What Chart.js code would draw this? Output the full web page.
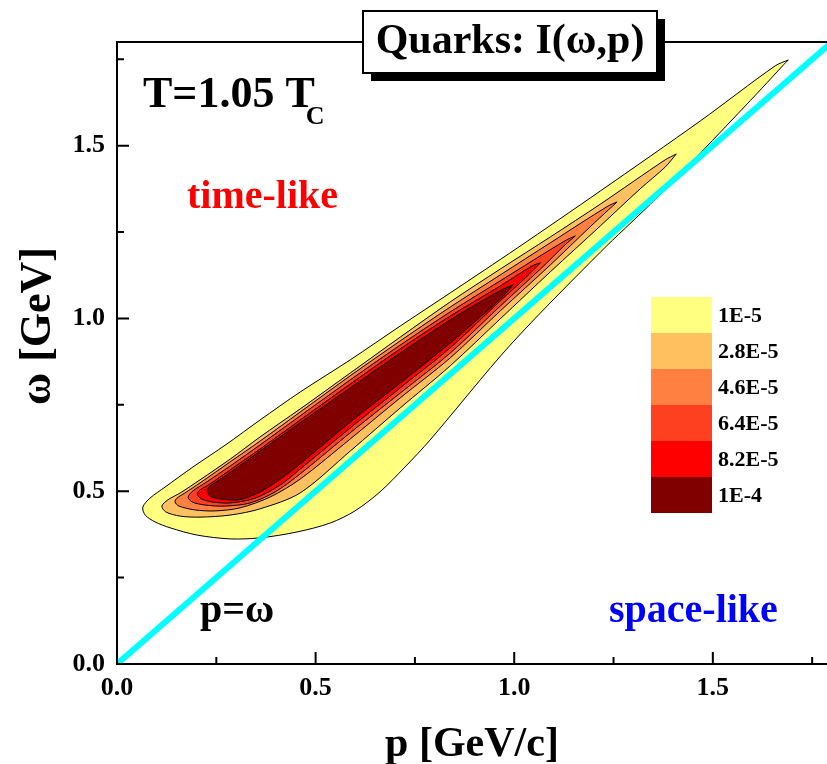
<!DOCTYPE html>
<html>
<head>
<meta charset="utf-8">
<script src="https://cdn.jsdelivr.net/npm/chart.js@4.4.0/dist/chart.umd.min.js"></script>
<style>
  html, body { margin: 0; padding: 0; overflow: hidden; background: #fff; }
  canvas { display: block; }
</style>
</head>
<body>
<canvas id="chart" width="840" height="764"></canvas>
<script>
const SERIF = '"Liberation Serif", "Times New Roman", serif';

const levelLabels = ["1E-5", "2.8E-5", "4.6E-5", "6.4E-5", "8.2E-5", "1E-4"];
const levelColors = ["#ffff80", "#ffc060", "#ff8040", "#ff4020", "#ff0000", "#800000"];

// contour outlines: p [GeV/c] and omega [GeV]
const level1P = [1.690,1.657,1.469,1.217,1.008,0.839,0.713,0.587,0.461,0.360,0.277,0.191,0.121,0.083,0.065,0.071,0.096,0.134,0.202,0.285,0.360,0.453,0.537,0.599,0.662,0.725,0.788,0.990,1.217,1.343,1.469,1.594,1.650,1.678];
const level1W = [1.748,1.731,1.572,1.369,1.204,1.074,0.978,0.880,0.787,0.706,0.637,0.570,0.512,0.480,0.454,0.431,0.411,0.394,0.373,0.362,0.365,0.382,0.408,0.443,0.498,0.570,0.648,0.923,1.192,1.331,1.479,1.630,1.699,1.734];

const level2P = [1.408,1.380,1.217,1.091,0.965,0.839,0.713,0.587,0.461,0.360,0.285,0.209,0.159,0.128,0.113,0.123,0.159,0.209,0.285,0.360,0.461,0.587,0.713,0.839,0.965,1.091,1.217,1.317,1.380];
const level2W = [1.476,1.459,1.331,1.236,1.143,1.048,0.946,0.842,0.738,0.657,0.593,0.533,0.495,0.475,0.457,0.440,0.428,0.425,0.431,0.449,0.495,0.616,0.741,0.863,0.999,1.135,1.268,1.375,1.438];

const level3P = [1.259,1.237,1.091,0.965,0.839,0.713,0.587,0.461,0.360,0.285,0.209,0.171,0.151,0.146,0.156,0.196,0.247,0.310,0.385,0.461,0.587,0.713,0.839,0.965,1.091,1.191,1.237];
const level3W = [1.337,1.326,1.219,1.126,1.033,0.935,0.834,0.729,0.645,0.585,0.524,0.495,0.480,0.469,0.457,0.446,0.443,0.452,0.483,0.535,0.651,0.770,0.886,1.022,1.155,1.265,1.314];

const level4P = [1.154,1.131,0.965,0.839,0.713,0.587,0.461,0.360,0.285,0.222,0.191,0.179,0.189,0.222,0.272,0.335,0.398,0.461,0.587,0.713,0.839,0.965,1.066,1.128];
const level4W = [1.239,1.227,1.109,1.019,0.923,0.822,0.718,0.634,0.573,0.524,0.501,0.483,0.469,0.460,0.457,0.466,0.498,0.550,0.669,0.784,0.900,1.036,1.143,1.213];

const level5P = [1.066,1.045,0.965,0.839,0.713,0.587,0.461,0.360,0.285,0.234,0.209,0.202,0.212,0.239,0.285,0.348,0.411,0.461,0.587,0.713,0.839,0.965,1.028];
const level5W = [1.161,1.152,1.094,1.007,0.912,0.810,0.706,0.622,0.562,0.521,0.504,0.492,0.478,0.469,0.466,0.480,0.518,0.564,0.683,0.799,0.915,1.051,1.117];

const level6P = [0.997,0.977,0.914,0.839,0.713,0.587,0.461,0.360,0.297,0.254,0.234,0.227,0.234,0.259,0.305,0.360,0.411,0.461,0.587,0.713,0.839,0.914,0.965];
const level6W = [1.097,1.088,1.048,0.996,0.900,0.799,0.698,0.616,0.564,0.530,0.515,0.504,0.486,0.478,0.475,0.498,0.535,0.579,0.700,0.813,0.929,1.004,1.056];

// light cone p = omega
const lightConeP = [0, 1.8];
const lightConeW = [0, 1.8];

const majorTicks = [0, 0.5, 1.0, 1.5];
const minorTicks = [0.25, 0.75, 1.25, 1.75];

const contours = [
  [level1P, level1W], [level2P, level2W], [level3P, level3W],
  [level4P, level4W], [level5P, level5W], [level6P, level6W]
];

function closedShape(ps, ws) {
  const pts = ps.map((p, i) => ({ x: p, y: ws[i] }));
  pts.push(pts[0]);
  return pts;
}

const datasets = contours.map(([ps, ws], i) => ({
  label: levelLabels[i],
  data: closedShape(ps, ws),
  showLine: true,
  fill: "shape",
  backgroundColor: levelColors[i],
  borderColor: "#000",
  borderWidth: 1,
  pointRadius: 0,
  tension: 0.3,
  order: 10 - i
}));

datasets.push({
  label: "p=ω",
  data: lightConeP.map((p, i) => ({ x: p, y: lightConeW[i] })),
  showLine: true,
  fill: false,
  borderColor: "#00ffff",
  borderWidth: 6,
  pointRadius: 0,
  clip: 0,
  order: 0
});

const tickFont = { family: SERIF, size: 26, weight: "bold" };

const decorations = {
  id: "decorations",
  afterDraw(chart) {
    const ctx = chart.ctx;
    const xs = chart.scales.x;
    const ys = chart.scales.y;
    const area = chart.chartArea;
    ctx.save();

    // frame
    ctx.strokeStyle = "#000";
    ctx.lineWidth = 2;
    ctx.beginPath();
    ctx.moveTo(area.left, area.top);
    ctx.lineTo(area.right, area.top);
    ctx.lineTo(area.right, area.bottom);
    ctx.stroke();

    // inward ticks
    ctx.beginPath();
    majorTicks.concat(minorTicks).forEach(v => {
      const len = majorTicks.includes(v) ? 12 : 7;
      const px = xs.getPixelForValue(v);
      ctx.moveTo(px, area.bottom);
      ctx.lineTo(px, area.bottom - len);
      const py = ys.getPixelForValue(v);
      ctx.moveTo(area.left, py);
      ctx.lineTo(area.left + len, py);
    });
    ctx.stroke();

    // title box
    ctx.fillStyle = "#000";
    ctx.fillRect(371, 19, 294, 62);
    ctx.fillStyle = "#fff";
    ctx.fillRect(363, 11, 294, 62);
    ctx.strokeRect(363, 11, 294, 62);
    ctx.fillStyle = "#000";
    ctx.font = "bold 42px " + SERIF;
    ctx.textAlign = "center";
    ctx.textBaseline = "alphabetic";
    ctx.fillText("Quarks: I(ω,p)", 510, 53);

    // labels in the plot
    ctx.textAlign = "left";
    ctx.font = "bold 44px " + SERIF;
    const tText = "T=1.05 T";
    ctx.fillText(tText, 143, 107);
    const tw = ctx.measureText(tText).width;
    ctx.font = "bold 26px " + SERIF;
    ctx.fillText("C", 143 + tw - 9, 124);

    ctx.font = "bold 40px " + SERIF;
    ctx.fillStyle = "#ff0000";
    ctx.fillText("time-like", 187, 208);
    ctx.fillStyle = "#000";
    ctx.fillText("p=ω", 200, 622);
    ctx.fillStyle = "#0000ff";
    ctx.fillText("space-like", 609, 622);

    // colour scale
    ctx.font = "bold 22px " + SERIF;
    ctx.textBaseline = "middle";
    levelColors.forEach((c, i) => {
      ctx.fillStyle = c;
      ctx.fillRect(651, 297 + 36 * i, 61, 36);
      ctx.fillStyle = "#000";
      ctx.fillText(levelLabels[i], 718, 297 + 36 * i + 19);
    });

    // axis titles
    ctx.fillStyle = "#000";
    ctx.textAlign = "center";
    ctx.textBaseline = "alphabetic";
    ctx.font = "bold 42px " + SERIF;
    ctx.fillText("p [GeV/c]", 472, 756);
    ctx.translate(50, 326);
    ctx.rotate(-Math.PI / 2);
    ctx.font = "bold 44px " + SERIF;
    ctx.fillText("ω [GeV]", 0, 0);

    ctx.restore();
  }
};

new Chart(document.getElementById("chart"), {
  type: "scatter",
  data: { datasets },
  options: {
    responsive: false,
    animation: false,
    events: [],
    layout: { padding: { top: 42, right: 8, left: 0, bottom: 0 } },
    plugins: {
      legend: { display: false },
      tooltip: { enabled: false },
      filler: { propagate: false }
    },
    scales: {
      x: {
        type: "linear",
        min: 0,
        max: 1.8,
        afterBuildTicks: s => { s.ticks = majorTicks.map(v => ({ value: v })); },
        afterFit: s => { s.height = 100; },
        grid: { display: false, drawTicks: false },
        border: { display: true, color: "#000", width: 2 },
        ticks: { font: tickFont, color: "#000", padding: 9, maxRotation: 0,
                 callback: v => Number(v).toFixed(1) }
      },
      y: {
        type: "linear",
        min: 0,
        max: 1.8,
        afterBuildTicks: s => { s.ticks = majorTicks.map(v => ({ value: v })); },
        afterFit: s => { s.width = 117; },
        grid: { display: false, drawTicks: false },
        border: { display: true, color: "#000", width: 2 },
        ticks: { font: tickFont, color: "#000", padding: 12,
                 callback: v => Number(v).toFixed(1) }
      }
    }
  },
  plugins: [decorations]
});
</script>
</body>
</html>
